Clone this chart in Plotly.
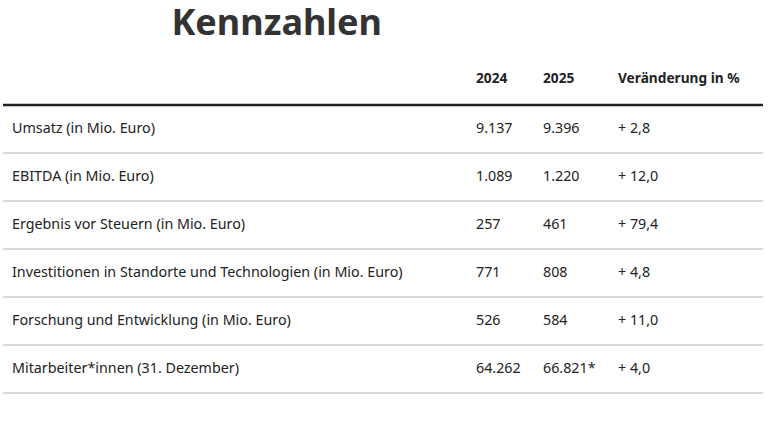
import plotly.graph_objects as go

# Data
labels = [
    "Umsatz (in Mio. Euro)",
    "EBITDA (in Mio. Euro)",
    "Ergebnis vor Steuern (in Mio. Euro)",
    "Investitionen in Standorte und Technologien (in Mio. Euro)",
    "Forschung und Entwicklung (in Mio. Euro)",
    "Mitarbeiter*innen (31. Dezember)",
]
values_2024 = ["9.137", "1.089", "257", "771", "526", "64.262"]
values_2025 = ["9.396", "1.220", "461", "808", "584", "66.821*"]
change_pct = ["+ 2,8", "+ 12,0", "+ 79,4", "+ 4,8", "+ 11,0", "+ 4,0"]
headers = ["", "2024", "2025", "Veränderung in %"]

columns = [labels, values_2024, values_2025, change_pct]
col_x = [12, 476, 543, 618]

rows = list(range(len(labels)))
font_family = "Noto Sans, sans-serif"
text_color = "#222222"

fig = go.Figure()

# header row
fig.add_trace(go.Scatter(
    x=col_x[1:], y=[-1.03] * 3, text=headers[1:], mode="text",
    textposition="middle right",
    textfont=dict(family=font_family, size=13.7, color=text_color, weight="bold"),
    hoverinfo="skip", showlegend=False,
))

# body cells
for x, col in zip(col_x, columns):
    fig.add_trace(go.Scatter(
        x=[x] * len(col), y=rows, text=col, mode="text",
        textposition="middle right",
        textfont=dict(family=font_family, size=14.3, color=text_color),
        hoverinfo="skip", showlegend=False,
    ))

# rules
shapes = [dict(type="line", xref="x", yref="y", x0=3, x1=763, y0=-0.5, y1=-0.5,
               line=dict(color="#222222", width=2.5))]
for r in rows:
    shapes.append(dict(type="line", xref="x", yref="y", x0=3, x1=763,
                       y0=r + 0.5, y1=r + 0.5, line=dict(color="#b3b3b3", width=1)))

fig.update_layout(
    width=773, height=429,
    margin=dict(l=0, r=0, t=0, b=0),
    paper_bgcolor="white", plot_bgcolor="white",
    title=dict(text="<b>Kennzahlen</b>", x=0.358, xanchor="center", y=0.948, yanchor="middle",
               font=dict(family=font_family, size=36, color="#333333")),
    xaxis=dict(range=[0, 773], visible=False, fixedrange=True),
    yaxis=dict(range=[6.25, -2.6875], visible=False, fixedrange=True),
    shapes=shapes,
    hovermode=False,
)

# drop the default page margin so the figure sits at the window corner
fig.write_html("out.html", config={"displayModeBar": False},
               post_script="document.body.style.margin='0';")
